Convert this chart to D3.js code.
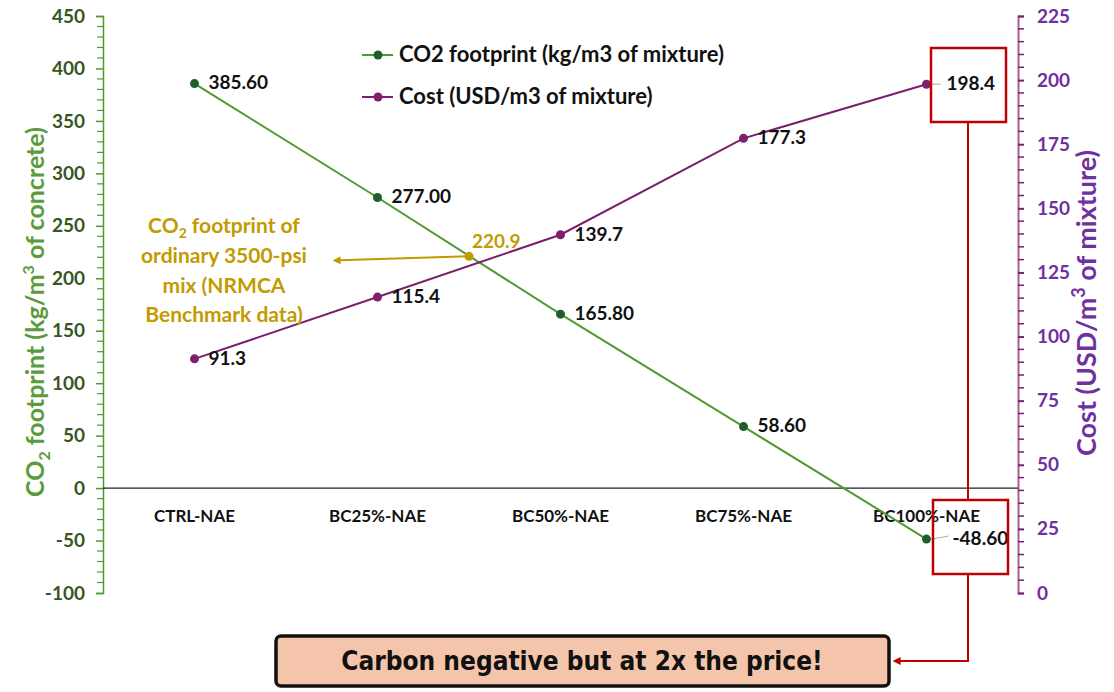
<!DOCTYPE html>
<html>
<head>
<meta charset="utf-8">
<script src="https://cdn.jsdelivr.net/npm/d3@7"></script>
<style>
  body { margin: 0; background: #fff; }
  svg { display: block; font-family: Lato, "Open Sans", sans-serif; }
</style>
</head>
<body>
<svg id="chart" width="1114" height="692"></svg>
<script>
// Mixture categories and their two measured series
const categories = ["CTRL-NAE", "BC25%-NAE", "BC50%-NAE", "BC75%-NAE", "BC100%-NAE"];
const co2Values = [385.6, 277.0, 165.8, 58.6, -48.6];
const costValues = [91.3, 115.4, 139.7, 177.3, 198.4];
const leftTicks = [-100, -50, 0, 50, 100, 150, 200, 250, 300, 350, 400, 450];
const rightTicks = [0, 25, 50, 75, 100, 125, 150, 175, 200, 225];
const benchmarkValue = 220.9;   // NRMCA benchmark for ordinary 3500-psi mix
const benchmarkPos = 1.5;       // drawn between BC25% and BC50%

// plain hyphen for negatives
const loc = d3.formatLocale({ decimal: ".", thousands: ",", grouping: [3], currency: ["$", ""], minus: "-" });
const fmtInt = loc.format("d"), fmt1 = loc.format(".1f"), fmt2 = loc.format(".2f");
const FONT = "Lato, 'Open Sans', sans-serif";

const svg = d3.select("#chart");
const plot = { left: 103, right: 1018, top: 16, bottom: 593 };

const x = d3.scaleBand().domain(categories).range([plot.left, plot.right]);
const xc = i => x(categories[0]) + x.bandwidth() * (i + 0.5);
const yL = d3.scaleLinear().domain([-100, 450]).range([plot.bottom, plot.top]);
const yR = d3.scaleLinear().domain([0, 225]).range([plot.bottom, plot.top]);

const green = "#4e9a2f", greenDark = "#1f5f2b", greenTick = "#375623", greenTitle = "#5b9b3b";
const purple = "#7b1f6e", purpleAxis = "#7030a0", purpleLine = "#a0609a";
const gold = "#c39a00";
const red = "#c00000";

// Left axis
const leftAxis = d3.axisLeft(yL).tickValues(leftTicks).tickSize(7).tickPadding(11).tickFormat(fmtInt);
const gL = svg.append("g").attr("transform", `translate(${plot.left},0)`).call(leftAxis)
  .attr("font-family", FONT);
gL.select(".domain").attr("stroke", green).attr("stroke-width", 1.5);
gL.selectAll(".tick line").attr("stroke", green).attr("stroke-width", 1.5);
gL.selectAll(".tick text").attr("fill", greenTick).attr("font-size", 19).attr("font-weight", 700);
// minor ticks every 10
svg.append("g").selectAll("line")
  .data(d3.range(-100, 451, 10).filter(v => v % 50 !== 0))
  .join("line")
  .attr("x1", plot.left - 6).attr("x2", plot.left)
  .attr("y1", d => yL(d)).attr("y2", d => yL(d))
  .attr("stroke", green).attr("stroke-width", 1.2);

// Right axis
const rightAxis = d3.axisRight(yR).tickValues(rightTicks).tickSize(6).tickPadding(13).tickFormat(fmtInt);
const gR = svg.append("g").attr("transform", `translate(${plot.right},0)`).call(rightAxis)
  .attr("font-family", FONT);
gR.select(".domain").attr("stroke", purpleLine).attr("stroke-width", 2);
gR.selectAll(".tick line").attr("stroke", purple).attr("stroke-width", 2);
gR.selectAll(".tick text").attr("fill", purpleAxis).attr("font-size", 19).attr("font-weight", 700);
svg.append("g").selectAll("line")
  .data(d3.range(0, 226, 5).filter(v => v % 25 !== 0))
  .join("line")
  .attr("x1", plot.right).attr("x2", plot.right + 6)
  .attr("y1", d => yR(d)).attr("y2", d => yR(d))
  .attr("stroke", purple).attr("stroke-width", 1.5);

// Zero line
svg.append("line")
  .attr("x1", plot.left).attr("x2", plot.right)
  .attr("y1", yL(0)).attr("y2", yL(0))
  .attr("stroke", "#222").attr("stroke-width", 1.2);

// Category labels
svg.append("g").selectAll("text").data(categories).join("text")
  .attr("x", (d, i) => xc(i)).attr("y", yL(0) + 34)
  .attr("text-anchor", "middle").attr("font-size", 17).attr("font-weight", 700)
  .attr("fill", "#111").text(d => d);

// Axis titles
const tL = svg.append("text")
  .attr("transform", `translate(44,${312}) rotate(-90)`)
  .attr("text-anchor", "middle").attr("font-size", 25).attr("font-weight", 700).attr("fill", greenTitle);
tL.append("tspan").text("CO");
tL.append("tspan").attr("font-size", 16).attr("dy", 6).text("2");
tL.append("tspan").attr("dy", -6).text(" footprint (kg/m");
tL.append("tspan").attr("font-size", 16).attr("dy", -10).text("3");
tL.append("tspan").attr("dy", 10).text(" of concrete)");

const tR = svg.append("text")
  .attr("transform", `translate(1096,${303}) rotate(-90)`)
  .attr("text-anchor", "middle").attr("font-size", 27).attr("font-weight", 700).attr("fill", purpleAxis);
tR.append("tspan").text("Cost (USD/m");
tR.append("tspan").attr("font-size", 18).attr("dy", -11).text("3");
tR.append("tspan").attr("dy", 11).text(" of mixture)");

// Series lines
const co2Line = d3.line().x((d, i) => xc(i)).y(d => yL(d));
const costLine = d3.line().x((d, i) => xc(i)).y(d => yR(d));
svg.append("path").datum(co2Values).attr("d", co2Line)
  .attr("fill", "none").attr("stroke", green).attr("stroke-width", 2);
svg.append("path").datum(costValues).attr("d", costLine)
  .attr("fill", "none").attr("stroke", purple).attr("stroke-width", 2);

// Leader lines for the last points
svg.append("line").attr("x1", xc(4) + 5).attr("x2", xc(4) + 14)
  .attr("y1", yR(costValues[4])).attr("y2", yR(costValues[4]))
  .attr("stroke", "#aaa").attr("stroke-width", 1);
svg.append("line").attr("x1", xc(4) + 5).attr("x2", xc(4) + 22)
  .attr("y1", yL(co2Values[4])).attr("y2", yL(co2Values[4]) - 3)
  .attr("stroke", "#aaa").attr("stroke-width", 1);

// Markers
svg.append("g").selectAll("circle").data(co2Values).join("circle")
  .attr("cx", (d, i) => xc(i)).attr("cy", d => yL(d)).attr("r", 4.5).attr("fill", greenDark);
svg.append("g").selectAll("circle").data(costValues).join("circle")
  .attr("cx", (d, i) => xc(i)).attr("cy", d => yR(d)).attr("r", 4.5).attr("fill", purple);

// Value labels
const co2Dx = [14, 14, 14, 14, 26];
svg.append("g").selectAll("text").data(co2Values).join("text")
  .attr("x", (d, i) => xc(i) + co2Dx[i]).attr("y", d => yL(d) + 1)
  .attr("dominant-baseline", "middle").attr("font-size", 19).attr("font-weight", 700).attr("fill", "#111")
  .text(d => fmt2(d));
const costDx = [14, 14, 14, 14, 20];
svg.append("g").selectAll("text").data(costValues).join("text")
  .attr("x", (d, i) => xc(i) + costDx[i]).attr("y", d => yR(d) + 1)
  .attr("dominant-baseline", "middle").attr("font-size", 19).attr("font-weight", 700).attr("fill", "#111")
  .text(d => fmt1(d));

// Benchmark annotation
const bx = plot.left + x.bandwidth() * (benchmarkPos + 0.5);
const by = yL(benchmarkValue);
svg.append("defs").html(`
  <marker id="goldArrow" viewBox="0 0 10 10" refX="2" refY="5" markerWidth="4" markerHeight="4" orient="auto-start-reverse">
    <path d="M0,0 L10,5 L0,10 z" fill="${gold}"/>
  </marker>
  <marker id="redArrow" viewBox="0 0 10 10" refX="2" refY="5" markerWidth="4" markerHeight="4" orient="auto-start-reverse">
    <path d="M0,0 L10,5 L0,10 z" fill="${red}"/>
  </marker>`);
svg.append("line").attr("x1", bx).attr("y1", by).attr("x2", 339).attr("y2", by + 4)
  .attr("stroke", gold).attr("stroke-width", 2).attr("marker-end", "url(#goldArrow)");
svg.append("circle").attr("cx", bx).attr("cy", by).attr("r", 4.5).attr("fill", gold);
svg.append("text").attr("x", bx + 3).attr("y", by - 8).attr("font-size", 19).attr("font-weight", 700)
  .attr("fill", gold).text(fmt1(benchmarkValue));

const ann = svg.append("text").attr("text-anchor", "middle").attr("font-size", 21).attr("font-weight", 700).attr("fill", gold);
const annX = 224;
const l1 = ann.append("tspan").attr("x", annX).attr("y", 233);
l1.append("tspan").text("CO");
l1.append("tspan").attr("font-size", 14).attr("dy", 5).text("2");
l1.append("tspan").attr("dy", -5).text(" footprint of");
ann.append("tspan").attr("x", annX).attr("y", 263).text("ordinary 3500-psi");
ann.append("tspan").attr("x", annX).attr("y", 293).text("mix (NRMCA");
ann.append("tspan").attr("x", annX).attr("y", 322).text("Benchmark data)");

// Legend
const legend = [
  { label: "CO2 footprint (kg/m3 of mixture)", line: green, dot: greenDark, y: 55 },
  { label: "Cost (USD/m3 of mixture)", line: purple, dot: purple, y: 97 }
];
const lg = svg.append("g").selectAll("g").data(legend).join("g");
lg.append("line").attr("x1", 362).attr("x2", 393).attr("y1", d => d.y).attr("y2", d => d.y)
  .attr("stroke", d => d.line).attr("stroke-width", 2);
lg.append("circle").attr("cx", 378).attr("cy", d => d.y).attr("r", 4.5).attr("fill", d => d.dot);
lg.append("text").attr("x", 399).attr("y", d => d.y + 1).attr("dominant-baseline", "middle")
  .attr("font-size", 22).attr("font-weight", 700).attr("fill", "#111").text(d => d.label);

// Callout boxes and connector
const boxW = 75, boxH = 74;
const topBox = { x: 931, y: 48 }, botBox = { x: 933, y: 500 };
const connX = 968;
svg.append("path")
  .attr("d", `M${connX},${topBox.y + boxH} L${connX},${botBox.y} M${connX},${botBox.y + boxH} L${connX},661 L899,661`)
  .attr("fill", "none").attr("stroke", red).attr("stroke-width", 2).attr("marker-end", "url(#redArrow)");
[topBox, botBox].forEach(b => {
  svg.append("rect").attr("x", b.x).attr("y", b.y).attr("width", boxW).attr("height", boxH)
    .attr("fill", "none").attr("stroke", red).attr("stroke-width", 2.5);
});

// Conclusion box
svg.append("rect").attr("x", 276).attr("y", 636).attr("width", 613).attr("height", 50).attr("rx", 5)
  .attr("fill", "#f5c5ab").attr("stroke", "#111").attr("stroke-width", 3.5);
svg.append("text").attr("x", 582).attr("y", 662).attr("text-anchor", "middle").attr("dominant-baseline", "middle")
  .attr("font-family", "'DejaVu Sans Condensed', 'DejaVu Sans', sans-serif").attr("font-stretch", "condensed")
  .attr("font-size", 26).attr("font-weight", 700).attr("fill", "#111")
  .text("Carbon negative but at 2x the price!");
</script>
</body>
</html>
